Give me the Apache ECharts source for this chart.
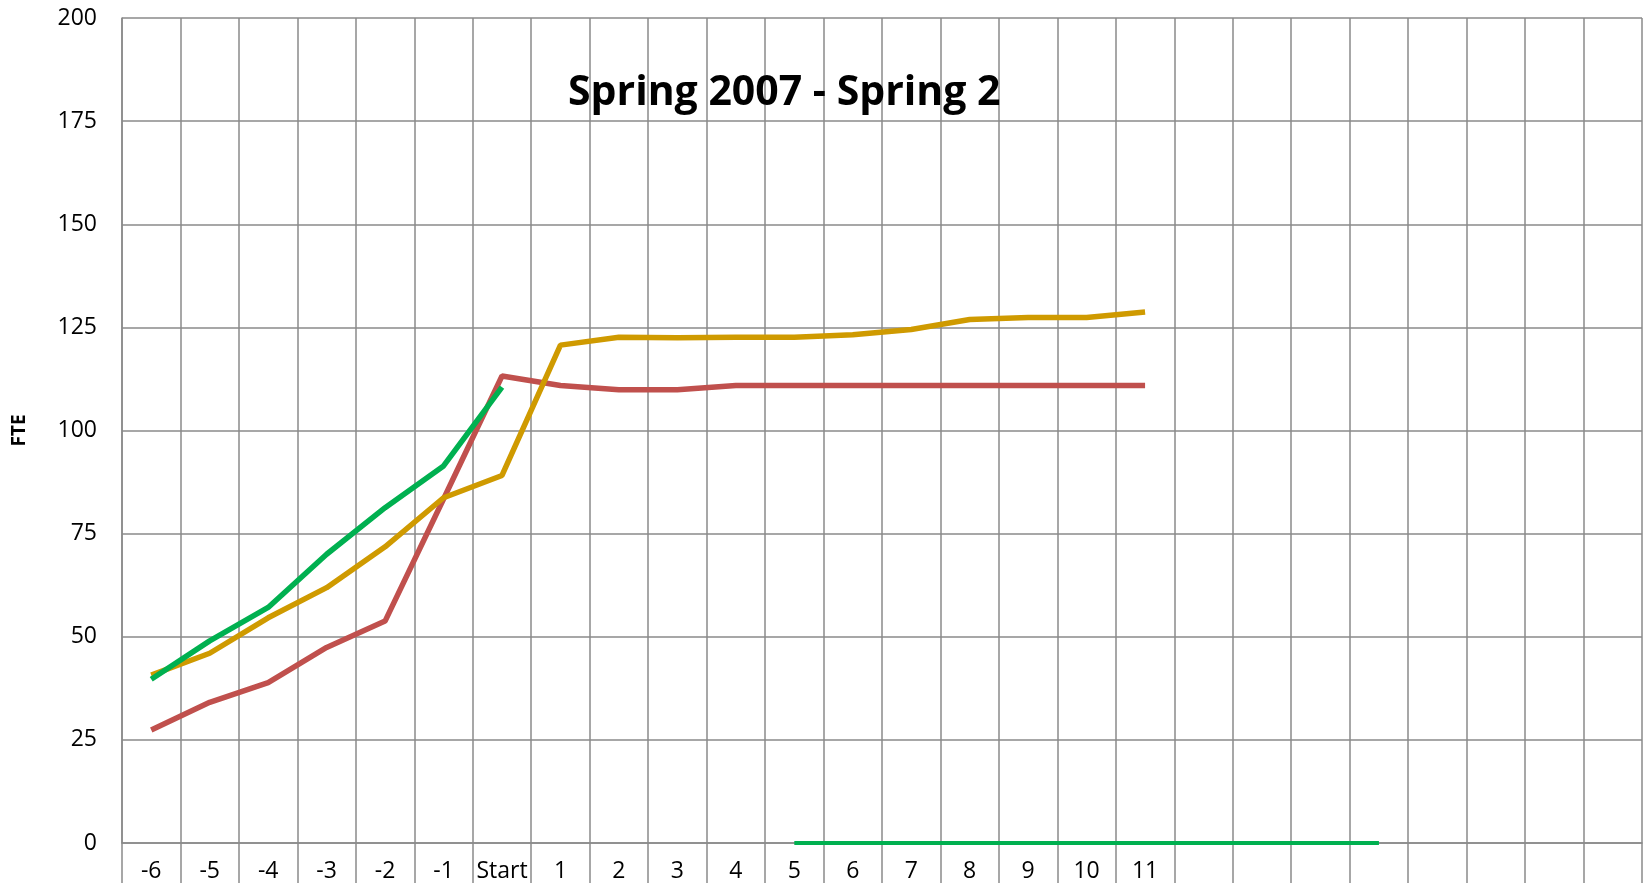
<!DOCTYPE html>
<html>
<head>
<meta charset="utf-8">
<script src="https://cdn.jsdelivr.net/npm/echarts@6/dist/echarts.min.js"></script>
<style>
html, body { margin: 0; padding: 0; background: #fff; }
#chart { width: 1648px; height: 883px; }
</style>
</head>
<body>
<div id="chart"></div>
<script>
// x positions: 18 labelled terms, then 8 empty slots
var categories = ['-6', '-5', '-4', '-3', '-2', '-1', 'Start', '1', '2', '3', '4', '5', '6', '7', '8', '9', '10', '11',
    '', '', '', '', '', '', '', ''];
var yTicks = [0, 25, 50, 75, 100, 125, 150, 175, 200];

var redSeries = [27.4, 34.1, 38.9, 47.4, 53.8, 83.4, 113.2, 110.9, 109.9, 109.9, 110.9, 110.9, 110.9, 110.9, 110.9, 110.9, 110.9, 110.9];
var goldSeries = [40.7, 46.0, 54.6, 61.9, 71.8, 83.7, 89.1, 120.7, 122.6, 122.5, 122.6, 122.6, 123.2, 124.5, 126.9, 127.4, 127.4, 128.7];
var greenSeries = [39.7, 49.0, 57.1, 70.0, 81.3, 91.4, 110.5, null, null, null, null,
    0, 0, 0, 0, 0, 0, 0, 0, 0, 0, 0];

var gridColor = '#8a8a8a';
var font = '"Open Sans", sans-serif';

// the zero run sits on the axis and is half hidden, so draw it thinner
var greenUpper = greenSeries.map(function (v) { return v === 0 ? null : v; });
var greenZero = greenSeries.map(function (v) { return v === 0 ? 0 : null; });

var myChart = echarts.init(document.getElementById('chart'));

var option = {
    animation: false,
    title: {
        text: 'Spring 2007 - Spring 2',
        left: 563,
        top: 68,
        textStyle: { fontFamily: font, fontWeight: 'bold', fontSize: 41, color: '#000' }
    },
    grid: { left: 122, right: 6, top: 18, bottom: 39 },
    xAxis: {
        type: 'category',
        data: categories,
        boundaryGap: true,
        axisLine: { lineStyle: { color: gridColor, width: 1.5 } },
        axisTick: { show: true, interval: 0, length: 40, lineStyle: { color: gridColor, width: 1.5 } },
        splitLine: { show: true, interval: 0, lineStyle: { color: gridColor, width: 1.5 } },
        axisLabel: { interval: 0, margin: 17, fontFamily: font, fontSize: 23, color: '#000' }
    },
    yAxis: {
        type: 'value',
        min: yTicks[0],
        max: yTicks[yTicks.length - 1],
        interval: 25,
        name: 'FTE',
        nameLocation: 'middle',
        nameGap: 93,
        nameTextStyle: { fontFamily: font, fontWeight: 'bold', fontSize: 19, color: '#000' },
        axisLine: { show: true, lineStyle: { color: gridColor, width: 1.5 } },
        axisTick: { show: false },
        splitLine: { lineStyle: { color: gridColor, width: 1.5 } },
        axisLabel: { margin: 25, fontFamily: font, fontSize: 23, color: '#000' }
    },
    series: [
        { name: 'red', type: 'line', data: redSeries, symbol: 'none', lineStyle: { color: '#c0504d', width: 5.5 } },
        { name: 'gold', type: 'line', data: goldSeries, symbol: 'none', lineStyle: { color: '#cf9a00', width: 5.5 } },
        { name: 'green', type: 'line', data: greenUpper, symbol: 'none', lineStyle: { color: '#00b050', width: 5.5 } },
        { name: 'green zero', type: 'line', data: greenZero, symbol: 'none', lineStyle: { color: '#00b050', width: 4 } }
    ]
};
myChart.setOption(option);
</script>
</body>
</html>
